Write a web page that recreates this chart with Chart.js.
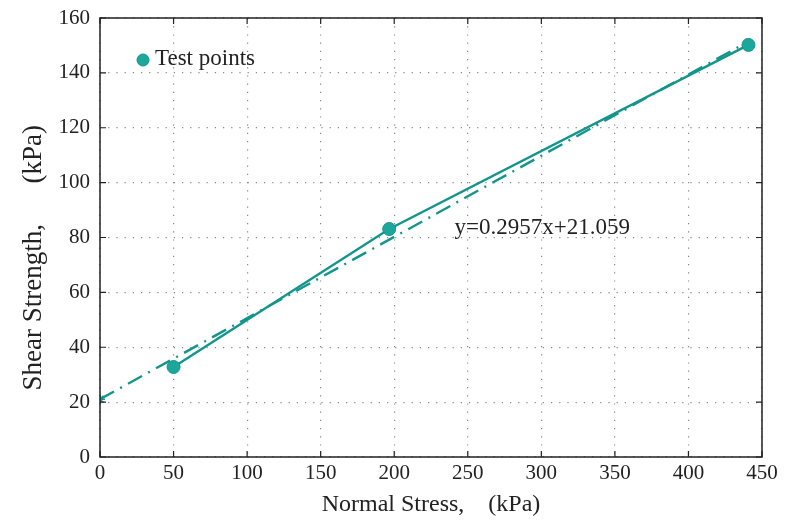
<!DOCTYPE html>
<html>
<head>
<meta charset="utf-8">
<script src="https://cdn.jsdelivr.net/npm/chart.js@4.4.0/dist/chart.umd.min.js"></script>
<style>
  html, body { margin: 0; padding: 0; background: #fff; }
  #wrap { width: 804px; height: 520px; }
</style>
</head>
<body>
<div id="wrap"><canvas id="chart1" width="804" height="520"></canvas></div>
<script>
// data
const normalStress = [50, 196.6, 440.8];
const shearStrength = [32.8, 83.1, 150.2];
const fitX = [0, 440];
const fitY = [21.06, 151.2];
const fitLabel = 'y=0.2957x+21.059';

const xTicks = [0, 50, 100, 150, 200, 250, 300, 350, 400, 450];
const yTicks = [0, 20, 40, 60, 80, 100, 120, 140, 160];

const teal = '#12958b';
const serif = "'Liberation Serif', 'DejaVu Serif', serif";

// frame, inner tick marks, legend and equation text
const framePlugin = {
    id: 'frame',
    afterDraw(chart) {
        const ctx = chart.ctx;
        const a = chart.chartArea;
        const xs = chart.scales.x, ys = chart.scales.y;
        ctx.save();
        ctx.strokeStyle = '#222';
        ctx.lineWidth = 1.5;
        ctx.strokeRect(a.left, a.top, a.right - a.left, a.bottom - a.top);
        ctx.lineWidth = 1.2;
        ctx.beginPath();
        xTicks.forEach(v => {
            const px = xs.getPixelForValue(v);
            ctx.moveTo(px, a.bottom); ctx.lineTo(px, a.bottom - 6);
            ctx.moveTo(px, a.top); ctx.lineTo(px, a.top + 6);
        });
        yTicks.forEach(v => {
            const py = ys.getPixelForValue(v);
            ctx.moveTo(a.left, py); ctx.lineTo(a.left + 6, py);
            ctx.moveTo(a.right, py); ctx.lineTo(a.right - 6, py);
        });
        ctx.stroke();

        // legend
        ctx.fillStyle = '#1ba79c';
        ctx.strokeStyle = teal;
        ctx.lineWidth = 1;
        ctx.beginPath();
        ctx.arc(a.left + 43, a.top + 42, 6, 0, Math.PI * 2);
        ctx.fill(); ctx.stroke();
        ctx.fillStyle = '#222';
        ctx.font = '23px ' + serif;
        ctx.textBaseline = 'middle';
        ctx.textAlign = 'left';
        ctx.fillText('Test points', a.left + 55, a.top + 41);

        // equation of the fit
        ctx.fillText(fitLabel, xs.getPixelForValue(241), ys.getPixelForValue(83.5));
        ctx.restore();
    }
};

const ctx = document.getElementById('chart1').getContext('2d');
window.chart = new Chart(ctx, {
    type: 'scatter',
    data: {
        datasets: [
            {
                label: 'Test points',
                data: normalStress.map((x, i) => ({ x: x, y: shearStrength[i] })),
                showLine: true,
                borderColor: teal,
                borderWidth: 2.4,
                backgroundColor: '#1ba79c',
                pointBorderColor: teal,
                pointRadius: 6.5,
                pointBorderWidth: 1
            },
            {
                label: 'Fit',
                data: fitX.map((x, i) => ({ x: x, y: fitY[i] })),
                showLine: true,
                borderColor: teal,
                borderWidth: 2.4,
                borderDash: [16, 7, 2, 7],
                pointStyle: 'star',
                pointRadius: [5, 0],
                pointBorderColor: teal,
                pointBorderWidth: 1.5,
                backgroundColor: teal
            }
        ]
    },
    options: {
        responsive: false,
        animation: false,
        layout: { padding: { top: 18, right: 42, left: 0, bottom: 0 } },
        plugins: {
            legend: { display: false },
            tooltip: { enabled: false }
        },
        scales: {
            x: {
                type: 'linear',
                min: 0,
                max: 450,
                afterBuildTicks: s => { s.ticks = xTicks.map(v => ({ value: v })); },
                afterFit: s => { s.height = 63; s.paddingLeft = 0; s.paddingRight = 0; },
                ticks: { color: '#222', font: { family: serif, size: 21 }, padding: 4, maxRotation: 0 },
                grid: { color: '#888', lineWidth: 1.2, drawTicks: false },
                border: { display: false, dash: [1.2, 7] },
                title: {
                    display: true,
                    text: 'Normal Stress,    (kPa)',
                    color: '#222',
                    font: { family: serif, size: 24 },
                    padding: { top: 0, bottom: 1 }
                }
            },
            y: {
                min: 0,
                max: 160,
                afterBuildTicks: s => { s.ticks = yTicks.map(v => ({ value: v })); },
                afterFit: s => { s.width = 100; s.paddingTop = 0; s.paddingBottom = 0; },
                ticks: { color: '#222', font: { family: serif, size: 21 }, padding: 10 },
                grid: { color: '#888', lineWidth: 1.2, drawTicks: false },
                border: { display: false, dash: [1.2, 7] },
                title: {
                    display: true,
                    text: 'Shear Strength,      (kPa)      ',
                    color: '#222',
                    font: { family: serif, size: 27 },
                    padding: { top: 18, bottom: 0 }
                }
            }
        }
    },
    plugins: [framePlugin]
});
</script>
</body>
</html>
